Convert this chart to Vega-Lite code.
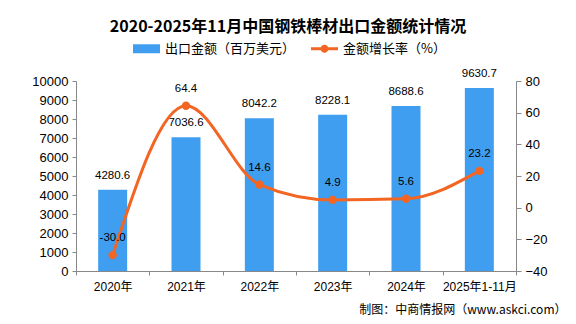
{
  "$schema": "https://vega.github.io/schema/vega-lite/v6.json",
  "autosize": {"type": "none"},
  "width": 440,
  "height": 190,
  "padding": {"left": 76, "top": 81, "right": 60, "bottom": 53},
  "background": "white",
  "title": {
    "text": "2020-2025年11月中国钢铁棒材出口金额统计情况",
    "font": "Noto Sans CJK SC",
    "fontSize": 16,
    "fontWeight": "bold",
    "color": "#000",
    "anchor": "middle",
    "frame": "group",
    "offset": 0,
    "dx": -8
  },
  "data": {
    "values": [
      {"year": "2020年", "amount": 4280.6, "growth": -30.0, "growthLabel": "-30.0"},
      {"year": "2021年", "amount": 7036.6, "growth": 64.4, "growthLabel": "64.4"},
      {"year": "2022年", "amount": 8042.2, "growth": 14.6, "growthLabel": "14.6"},
      {"year": "2023年", "amount": 8228.1, "growth": 4.9, "growthLabel": "4.9"},
      {"year": "2024年", "amount": 8688.6, "growth": 5.6, "growthLabel": "5.6"},
      {"year": "2025年1-11月", "amount": 9630.7, "growth": 23.2, "growthLabel": "23.2"}
    ]
  },
  "encoding": {
    "x": {
      "field": "year",
      "type": "nominal",
      "sort": null,
      "scale": {"paddingInner": 0, "paddingOuter": 0},
      "axis": {
        "title": "制图：中商情报网（www.askci.com）",
        "titleFont": "Noto Sans CJK SC",
        "titleFontSize": 12,
        "titleFontWeight": "normal",
        "titleColor": "#000",
        "titleX": 490,
        "titleY": 38,
        "titleAlign": "right",
        "titleBaseline": "middle",
        "labelAngle": 0,
        "labelFontSize": 12,
        "labelPadding": 6,
        "tickBand": "extent",
        "tickSize": 4
      }
    }
  },
  "layer": [
    {
      "encoding": {
        "y": {
          "field": "amount",
          "type": "quantitative",
          "scale": {"domain": [0, 10000], "nice": false},
          "axis": {
            "title": null,
            "values": [0, 1000, 2000, 3000, 4000, 5000, 6000, 7000, 8000, 9000, 10000],
            "format": "d",
            "labelOverlap": false,
            "labelPadding": 4,
            "tickSize": 4,
            "labelFontSize": 13
          }
        }
      },
      "layer": [
        {
          "mark": {"type": "bar", "size": 29},
          "encoding": {
            "color": {
              "datum": "出口金额（百万美元）",
              "type": "nominal",
              "scale": {
                "domain": ["出口金额（百万美元）", "金额增长率（%）"],
                "range": ["#409EF0", "#F26522"]
              },
              "legend": {
                "orient": "none",
                "legendX": 57,
                "legendY": -46,
                "direction": "horizontal",
                "title": null,
                "symbolSize": 729,
                "labelFontSize": 13,
                "labelFont": "Noto Sans CJK SC",
                "labelColor": "#000",
                "labelOffset": 5,
                "columnPadding": 15,
                "padding": 0,
                "symbolStrokeWidth": 0,
                "encode": {
                  "symbols": {
                    "update": {
                      "shape": {"signal": "datum.value === '出口金额（百万美元）' ? 'M-1,-0.333H1V0.333H-1Z' : 'M-1,-0.111H1V0.111H-1Z M-0.296,0A0.296,0.296 0 1,1 0.296,0A0.296,0.296 0 1,1 -0.296,0Z'"},
                      "fill": {"signal": "datum.value === '出口金额（百万美元）' ? '#409EF0' : '#F26522'"},
                      "opacity": {"value": 1},
                      "strokeWidth": {"value": 0}
                    }
                  }
                }
              }
            }
          }
        },
        {
          "mark": {"type": "text", "baseline": "middle", "dy": -14, "fontSize": 11.5, "font": "Liberation Sans", "color": "#000"},
          "encoding": {
            "text": {"field": "amount", "type": "quantitative", "format": ".1f"}
          }
        }
      ]
    },
    {
      "encoding": {
        "y": {
          "field": "growth",
          "type": "quantitative",
          "scale": {"domain": [-40, 80], "nice": false},
          "axis": {
            "orient": "right",
            "title": null,
            "values": [-40, -20, 0, 20, 40, 60, 80],
            "labelOverlap": false,
            "labelPadding": 4,
            "tickSize": 5,
            "labelFontSize": 13
          }
        }
      },
      "layer": [
        {
          "mark": {"type": "line", "interpolate": "monotone", "strokeWidth": 3, "point": {"filled": true, "size": 70}},
          "encoding": {
            "color": {"datum": "金额增长率（%）", "type": "nominal"}
          }
        },
        {
          "mark": {"type": "text", "baseline": "middle", "dy": -17, "fontSize": 11.5, "font": "Liberation Sans", "color": "#000"},
          "encoding": {
            "text": {"field": "growthLabel", "type": "nominal"}
          }
        }
      ]
    }
  ],
  "resolve": {"scale": {"y": "independent"}},
  "config": {
    "view": {"stroke": null},
    "axis": {
      "domainColor": "#888",
      "tickColor": "#888",
      "labelColor": "#000",
      "labelFont": "Liberation Sans, Noto Sans CJK SC",
      "grid": false
    }
  }
}
